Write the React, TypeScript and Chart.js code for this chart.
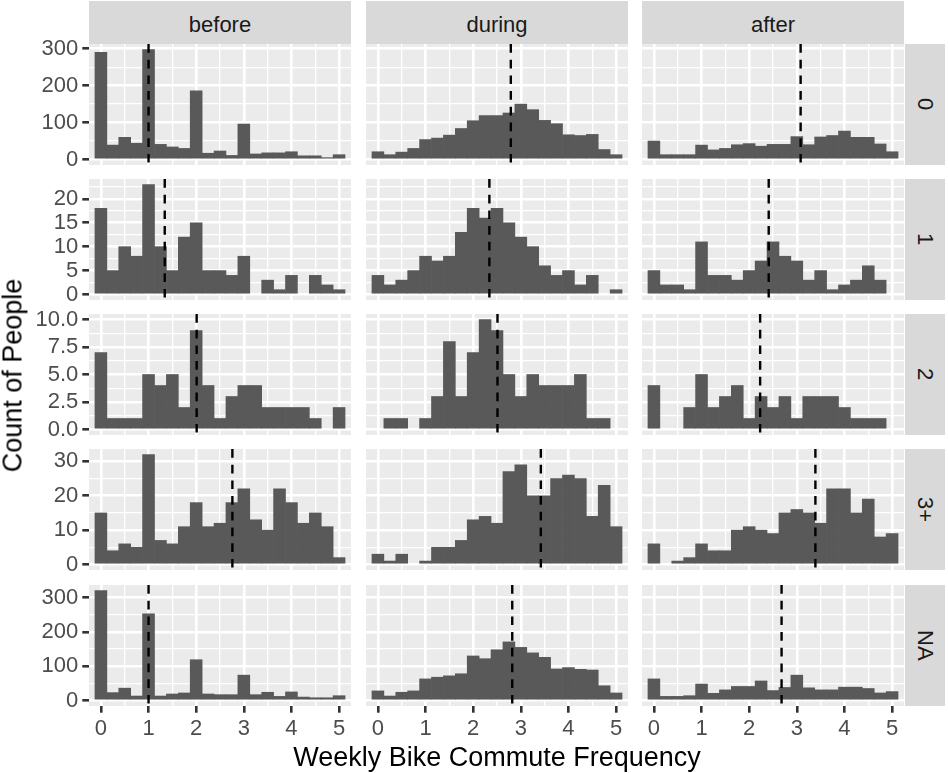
import { useEffect, useRef } from "react";
import { Chart, registerables, type Plugin, type ChartConfiguration } from "chart.js";

Chart.register(...registerables);

const FONT = '"Liberation Sans", Arial, Helvetica, sans-serif';

const periods = ["before", "during", "after"];
const groups = ["0", "1", "2", "3+", "NA"];

// histogram bins, width 0.25
const binCentres = [0, 0.25, 0.5, 0.75, 1, 1.25, 1.5, 1.75, 2, 2.25, 2.5, 2.75, 3, 3.25, 3.5, 3.75, 4, 4.25, 4.5, 4.75, 5];

const before0 = [290, 39, 60, 44, 298, 41, 34, 30, 186, 17, 23, 11, 96, 15, 18, 18, 21, 10, 10, 5, 13];
const during0 = [21, 13, 20, 30, 54, 58, 66, 84, 105, 119, 119, 126, 150, 135, 106, 97, 67, 65, 68, 27, 13];
const after0 = [50, 13, 13, 13, 39, 26, 30, 40, 43, 36, 41, 41, 62, 40, 61, 65, 77, 60, 60, 42, 21];

const before1 = [18, 5, 10, 8, 23, 10, 5, 12, 15, 5, 5, 4, 8, 0, 3, 1, 4, 0, 4, 2, 1];
const during1 = [4, 2, 3, 5, 8, 7, 8, 13, 18, 16, 18, 15, 12, 10, 6, 4, 5, 2, 4, 0, 1];
const after1 = [5, 2, 2, 1, 11, 4, 4, 3, 5, 7, 11, 8, 7, 3, 5, 1, 2, 3, 6, 3, 0];

const before2 = [7, 1, 1, 1, 5, 4, 5, 2, 9, 4, 1, 3, 4, 4, 2, 2, 2, 2, 1, 0, 2];
const during2 = [0, 1, 1, 0, 1, 3, 8, 3, 7, 10, 9, 5, 3, 5, 4, 4, 4, 5, 1, 1, 0];
const after2 = [4, 0, 0, 2, 5, 2, 3, 4, 1, 3, 2, 3, 1, 3, 3, 3, 2, 1, 1, 1, 0];

const before3 = [15, 4, 6, 5, 32, 7, 6, 11, 18, 11, 12, 18, 22, 13, 10, 22, 18, 12, 15, 11, 2];
const during3 = [3, 1, 3, 0, 1, 5, 5, 7, 13, 14, 12, 27, 29, 20, 20, 25, 26, 25, 14, 23, 11];
const after3 = [6, 0, 1, 2, 6, 4, 4, 10, 11, 10, 9, 15, 16, 15, 12, 22, 22, 15, 19, 8, 9];

const beforeNA = [321, 23, 36, 13, 253, 13, 19, 22, 119, 19, 17, 17, 74, 17, 24, 12, 25, 10, 8, 8, 14];
const duringNA = [28, 13, 24, 28, 63, 68, 72, 78, 130, 122, 148, 171, 155, 139, 126, 92, 96, 91, 89, 43, 22];
const afterNA = [63, 12, 12, 14, 48, 21, 31, 41, 41, 57, 29, 38, 74, 37, 31, 31, 39, 39, 35, 22, 26];

const counts = [
  [before0, during0, after0],
  [before1, during1, after1],
  [before2, during2, after2],
  [before3, during3, after3],
  [beforeNA, duringNA, afterNA],
];

// mean commute frequency (dashed lines)
const means = [
  [1.0, 2.79, 3.08],
  [1.34, 2.34, 2.41],
  [2.01, 2.51, 2.23],
  [2.76, 3.42, 3.39],
  [1.0, 2.82, 2.68],
];

const xMajor = [0, 1, 2, 3, 4, 5];
const xMinor = [0.5, 1.5, 2.5, 3.5, 4.5];
const xLabels = ["0", "1", "2", "3", "4", "5"];

const yMajor = [
  [0, 100, 200, 300],
  [0, 5, 10, 15, 20],
  [0, 2.5, 5, 7.5, 10],
  [0, 10, 20, 30],
  [0, 100, 200, 300],
];
const yMinor = [
  [50, 150, 250],
  [2.5, 7.5, 12.5, 17.5, 22.5],
  [1.25, 3.75, 6.25, 8.75],
  [5, 15, 25],
  [50, 150, 250],
];
const yLabels = [
  ["0", "100", "200", "300"],
  ["0", "5", "10", "15", "20"],
  ["0.0", "2.5", "5.0", "7.5", "10.0"],
  ["0", "10", "20", "30"],
  ["0", "100", "200", "300"],
];

// layout (px)
const PANEL_LEFT = [89, 366, 642];
const PANEL_W = 262;
const PANEL_TOP = [44, 179, 314, 449, 585];
const PANEL_H = 121;
const X_AXIS_H = 36;
const PAD = 14;
const TICK_SIZE = 22;

const panelBg: Plugin<"bar"> = {
  id: "panelBg",
  beforeDraw(chart) {
    const { left, top, width, height } = chart.chartArea;
    const ctx = chart.ctx;
    ctx.save();
    ctx.fillStyle = "#EBEBEB";
    ctx.fillRect(left, top, width, height);
    ctx.restore();
  },
};

const meanLine: Plugin<"bar"> = {
  id: "meanLine",
  afterDatasetsDraw(chart, _args, opts: any) {
    const x = chart.scales.x.getPixelForValue(opts.value);
    const { top, bottom } = chart.chartArea;
    const ctx = chart.ctx;
    ctx.save();
    ctx.strokeStyle = "#000000";
    ctx.lineWidth = 2.4;
    ctx.setLineDash([8.7, 7]);
    ctx.beginPath();
    ctx.moveTo(x, top);
    ctx.lineTo(x, bottom);
    ctx.stroke();
    ctx.restore();
  },
};

function Panel({ row, col }: { row: number; col: number }) {
  const ref = useRef<HTMLCanvasElement>(null);
  const left = col === 0 ? 0 : PANEL_LEFT[col];
  const right = PANEL_LEFT[col] + PANEL_W;
  const top = PANEL_TOP[row];
  const bottom = top + PANEL_H + (row === 4 ? X_AXIS_H : 0);
  const w = right - left + 2 * PAD;
  const h = bottom - top + 2 * PAD;

  useEffect(() => {
    if (!ref.current) return;
    const values = counts[row][col];
    const rowMax = Math.max(...counts[row].flat());
    const yTicks = [...yMajor[row], ...yMinor[row]].sort((a, b) => a - b);
    const xTicks = [...xMajor, ...xMinor].sort((a, b) => a - b);
    const isYMajor = (v: number) => yMajor[row].includes(v);
    const isXMajor = (v: number) => xMajor.includes(v);

    const config: ChartConfiguration<"bar"> = {
      type: "bar",
      data: {
        datasets: [
          {
            // empty bins are not drawn
            data: values.map((v, i) => ({ x: binCentres[i], y: v === 0 ? null : v })) as any,
            backgroundColor: "#595959",
            borderWidth: 0,
            barPercentage: 1,
            categoryPercentage: 1,
          },
        ],
      },
      plugins: [panelBg, meanLine],
      options: {
        responsive: false,
        animation: false,
        events: [],
        layout: { padding: PAD },
        plugins: {
          legend: { display: false },
          tooltip: { enabled: false },
          meanLine: { value: means[row][col] },
        } as any,
        scales: {
          x: {
            type: "linear",
            min: -0.25,
            max: 5.25,
            bounds: "data",
            offset: false,
            afterBuildTicks: (s: any) => {
              s.ticks = xTicks.map((v) => ({ value: v }));
            },
            afterFit: (s: any) => {
              s.height = row === 4 ? X_AXIS_H : 0;
              s.paddingLeft = 0;
              s.paddingRight = 0;
            },
            border: { display: false },
            grid: {
              offset: false,
              color: "#FFFFFF",
              lineWidth: (ctx: any) => (isXMajor(ctx.tick?.value) ? 2.6 : 1.3),
              drawTicks: row === 4,
              tickLength: 6.7,
              tickWidth: 2.6,
              tickColor: (ctx: any) => (isXMajor(ctx.tick?.value) ? "#333333" : "rgba(0,0,0,0)"),
            },
            ticks: {
              display: row === 4,
              autoSkip: false,
              maxRotation: 0,
              padding: 3,
              color: "#4D4D4D",
              font: { family: FONT, size: TICK_SIZE },
              callback: (v: any) => {
                const k = xMajor.indexOf(Number(v));
                return k >= 0 ? xLabels[k] : "";
              },
            },
          },
          y: {
            type: "linear",
            min: -0.05 * rowMax,
            max: 1.05 * rowMax,
            bounds: "data",
            afterBuildTicks: (s: any) => {
              s.ticks = yTicks.map((v) => ({ value: v }));
            },
            afterFit: (s: any) => {
              s.width = col === 0 ? PANEL_LEFT[0] : 0;
              s.paddingTop = 0;
              s.paddingBottom = 0;
            },
            border: { display: false },
            grid: {
              color: "#FFFFFF",
              lineWidth: (ctx: any) => (isYMajor(ctx.tick?.value) ? 2.6 : 1.3),
              drawTicks: col === 0,
              tickLength: 6.7,
              tickWidth: 2.6,
              tickColor: (ctx: any) => (isYMajor(ctx.tick?.value) ? "#333333" : "rgba(0,0,0,0)"),
            },
            ticks: {
              display: col === 0,
              autoSkip: false,
              padding: 4,
              color: "#4D4D4D",
              font: { family: FONT, size: TICK_SIZE },
              callback: (v: any) => {
                const k = yMajor[row].indexOf(Number(v));
                return k >= 0 ? yLabels[row][k] : "";
              },
            },
          },
        },
      },
    };

    const chart = new Chart(ref.current, config);
    return () => chart.destroy();
  }, [row, col]);

  return (
    <canvas
      ref={ref}
      width={w}
      height={h}
      style={{ position: "absolute", left: left - PAD, top: top - PAD, width: w, height: h }}
    />
  );
}

export default function App() {
  return (
    <div
      style={{
        position: "absolute",
        left: 0,
        top: 0,
        width: 948,
        height: 773,
        background: "#FFFFFF",
        fontFamily: FONT,
        overflow: "hidden",
      }}
    >
      {periods.map((p, c) => (
        <div
          key={p}
          style={{
            position: "absolute",
            left: PANEL_LEFT[c],
            top: 1,
            width: PANEL_W,
            height: 43,
            background: "#D9D9D9",
            color: "#1A1A1A",
            fontSize: TICK_SIZE,
            lineHeight: "43px",
            textAlign: "center",
          }}
        >
          <span style={{ position: "relative", top: 2 }}>{p}</span>
        </div>
      ))}
      {groups.map((g, r) => (
        <div
          key={g}
          style={{
            position: "absolute",
            left: PANEL_LEFT[2] + PANEL_W + 1,
            top: PANEL_TOP[r],
            width: 40,
            height: PANEL_H,
            background: "#D9D9D9",
            color: "#1A1A1A",
            fontSize: TICK_SIZE,
            display: "flex",
            alignItems: "center",
            justifyContent: "center",
          }}
        >
          <span style={{ writingMode: "vertical-rl" }}>{g}</span>
        </div>
      ))}
      {counts.map((rowData, r) =>
        rowData.map((_, c) => <Panel key={`${r}-${c}`} row={r} col={c} />)
      )}
      <div
        style={{
          position: "absolute",
          left: 13 - 250,
          top: 375 - 15.5,
          width: 500,
          height: 31,
          lineHeight: "31px",
          fontSize: 27,
          color: "#000000",
          textAlign: "center",
          transform: "rotate(-90deg)",
        }}
      >
        Count of People
      </div>
      <div
        style={{
          position: "absolute",
          left: 497 - 300,
          top: 742,
          width: 600,
          height: 31,
          lineHeight: "31px",
          fontSize: 27,
          color: "#000000",
          textAlign: "center",
        }}
      >
        Weekly Bike Commute Frequency
      </div>
    </div>
  );
}
